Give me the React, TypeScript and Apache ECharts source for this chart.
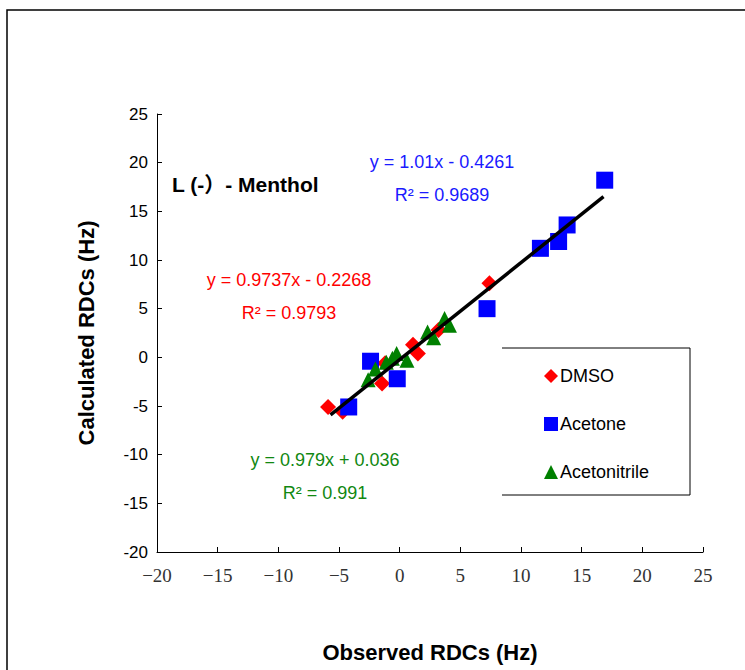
import React, { useEffect, useRef } from "react";
import * as echarts from "echarts";

// Observed vs. calculated RDCs (Hz) for L(-)-menthol in three alignment media
const dmso: [number, number][] = [
  [-5.9, -5.1],
  [-4.7, -5.6],
  [-1.45, -2.7],
  [-1.2, -0.6],
  [1.1, 1.3],
  [1.5, 0.4],
  [3.2, 2.8],
  [7.4, 7.6],
];

const acetone: [number, number][] = [
  [-4.2, -5.1],
  [-2.4, -0.4],
  [-0.2, -2.2],
  [7.2, 5.0],
  [11.6, 11.2],
  [13.1, 11.9],
  [13.8, 13.6],
  [16.9, 18.2],
];

const acetonitrile: [number, number][] = [
  [-2.6, -2.3],
  [-2.0, -1.2],
  [-1.1, -0.5],
  [-0.6, -0.1],
  [-0.25, 0.4],
  [0.6, -0.3],
  [2.3, 2.6],
  [2.8, 2.0],
  [3.7, 4.0],
  [4.1, 3.3],
];

// Overall fit line drawn through all media
const fitLine: [number, number][] = [
  [-5.7, -5.9],
  [16.8, 16.5],
];

const xTicks = { min: -20, max: 25, interval: 5 };
const yTicks = { min: -20, max: 25, interval: 5 };

const seriesNames = ["DMSO", "Acetone", "Acetonitrile"];
const seriesColors = ["#ff0000", "#0000ff", "#008000"];

const equations = [
  { lines: ["y = 1.01x - 0.4261", "R² = 0.9689"], color: "#1a1aff", x: 442, y: 162 },
  { lines: ["y = 0.9737x - 0.2268", "R² = 0.9793"], color: "#ff0000", x: 289, y: 280 },
  { lines: ["y = 0.979x + 0.036", "R² = 0.991"], color: "#118811", x: 325, y: 460 },
];

export default function App() {
  const ref = useRef<HTMLDivElement>(null);

  useEffect(() => {
    if (!ref.current) return;
    const chart = echarts.init(ref.current, null, { renderer: "svg" });

    const eqGraphics: any[] = [];
    equations.forEach((eq) => {
      eq.lines.forEach((line, i) => {
        eqGraphics.push({
          type: "text",
          x: eq.x,
          y: eq.y + i * 33,
          style: {
            text: line,
            fill: eq.color,
            font: "18px 'Liberation Sans', Arial, sans-serif",
            textAlign: "center",
            textVerticalAlign: "middle",
          },
        });
      });
    });

    chart.setOption({
      animation: false,
      backgroundColor: "#ffffff",
      grid: { left: 157, top: 114, right: 42, bottom: 118 },
      xAxis: {
        type: "value",
        min: xTicks.min,
        max: xTicks.max,
        interval: xTicks.interval,
        name: "Observed RDCs (Hz)",
        nameLocation: "middle",
        nameGap: 89,
        nameTextStyle: {
          fontFamily: "'Liberation Sans', Arial, sans-serif",
          fontWeight: "bold",
          fontSize: 22,
          color: "#000",
        },
        axisLine: { show: true, onZero: false, lineStyle: { color: "#000", width: 1 } },
        axisTick: { show: true, inside: true, length: 5, lineStyle: { color: "#000" } },
        splitLine: { show: false },
        axisLabel: {
          margin: 14,
          fontFamily: "'Liberation Serif', 'DejaVu Serif', serif",
          fontSize: 19,
          color: "#333",
          formatter: (v: number) => String(v).replace("-", "−"),
        },
      },
      yAxis: {
        type: "value",
        min: yTicks.min,
        max: yTicks.max,
        interval: yTicks.interval,
        name: "Calculated RDCs (Hz)",
        nameLocation: "middle",
        nameGap: 60,
        nameTextStyle: {
          fontFamily: "'Liberation Sans', Arial, sans-serif",
          fontWeight: "bold",
          fontSize: 22,
          color: "#000",
        },
        axisLine: { show: true, onZero: false, lineStyle: { color: "#000", width: 1 } },
        axisTick: { show: true, inside: true, length: 5, lineStyle: { color: "#000" } },
        splitLine: { show: false },
        axisLabel: {
          margin: 9,
          fontFamily: "'Liberation Sans', Arial, sans-serif",
          fontSize: 17,
          color: "#000",
        },
      },
      legend: {
        orient: "vertical",
        left: 539,
        top: 362,
        itemWidth: 14,
        itemHeight: 14,
        itemGap: 30,
        data: [
          { name: seriesNames[0], icon: "diamond" },
          { name: seriesNames[1], icon: "rect" },
          { name: seriesNames[2], icon: "triangle" },
        ],
        textStyle: {
          fontFamily: "'Liberation Sans', Arial, sans-serif",
          fontSize: 18,
          color: "#000",
          padding: [0, 0, 0, -3],
        },
      },
      series: [
        {
          name: seriesNames[0],
          type: "scatter",
          symbol: "diamond",
          symbolSize: 16,
          itemStyle: { color: seriesColors[0], opacity: 1 },
          data: dmso,
        },
        {
          name: seriesNames[1],
          type: "scatter",
          symbol: "rect",
          symbolSize: 17,
          itemStyle: { color: seriesColors[1], opacity: 1 },
          data: acetone,
        },
        {
          name: seriesNames[2],
          type: "scatter",
          symbol: "triangle",
          symbolSize: 15,
          itemStyle: { color: seriesColors[2], opacity: 1 },
          data: acetonitrile,
        },
        {
          name: "fit",
          type: "line",
          symbol: "none",
          data: fitLine,
          lineStyle: { color: "#000", width: 3.5 },
          z: 5,
        },
      ],
      graphic: [
        {
          type: "rect",
          shape: { x: 7, y: 10, width: 760, height: 680 },
          style: { fill: "none", stroke: "#000", lineWidth: 1.5 },
          silent: true,
        },
        {
          type: "polyline",
          shape: {
            points: [
              [502, 348],
              [690, 348],
              [690, 495],
              [502, 495],
            ],
          },
          style: { fill: "none", stroke: "#000", lineWidth: 1 },
          silent: true,
        },
        {
          type: "text",
          x: 172,
          y: 184,
          style: {
            text: "L (-）- Menthol",
            fill: "#000",
            font: "bold 21px 'Liberation Sans', Arial, 'Noto Sans CJK SC', sans-serif",
            textVerticalAlign: "middle",
          },
        },
        ...eqGraphics,
      ],
    });

    return () => chart.dispose();
  }, []);

  return (
    <div
      ref={ref}
      style={{ position: "fixed", left: 0, top: 0, width: 745, height: 670 }}
    />
  );
}
